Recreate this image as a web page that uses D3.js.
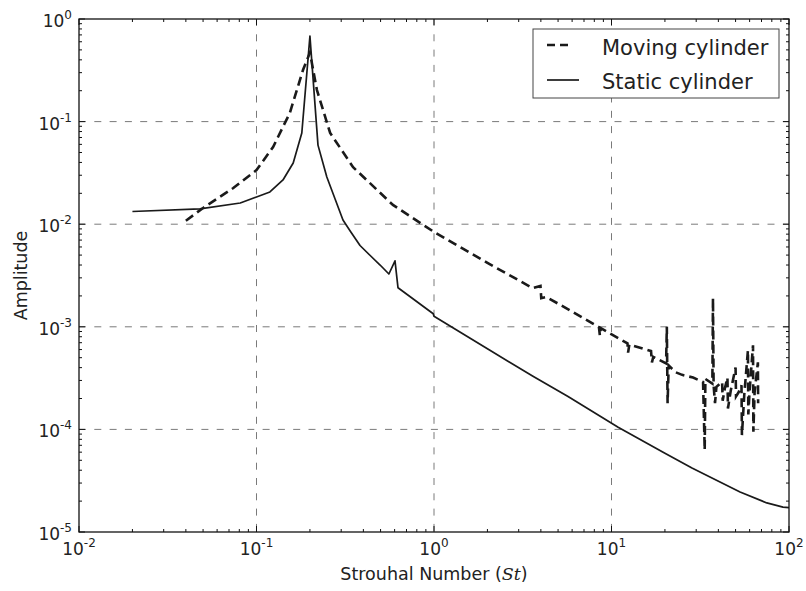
<!DOCTYPE html>
<html>
<head>
<meta charset="utf-8">
<script src="https://cdn.jsdelivr.net/npm/d3@7/dist/d3.min.js"></script>
<style>
  body { margin: 0; background: #fff; }
  svg { display: block; font-family: 'DejaVu Sans', sans-serif; }
</style>
</head>
<body>
<svg id="chart" width="806" height="591"></svg>
<script>
// Strouhal number / amplitude samples
const movingSt = [0.04, 0.05, 0.074, 0.1, 0.124, 0.154, 0.183, 0.2, 0.219, 0.26, 0.35, 0.587, 1.0, 2.0, 3.6,
  3.98, 4.02, 4.3, 5.33, 8.5, 8.6, 8.7, 12.3, 12.4, 12.6, 16.7, 16.9, 17.2, 20.3, 20.5, 20.7, 21, 23, 25, 28.8,
  32.8, 33.5, 33.8, 37, 37.3, 37.6, 38.3, 39, 42, 42.3, 43.5, 45, 45.3, 47, 50, 50.3, 52, 54, 54.3, 56,
  58.7, 59, 60, 62.7, 63, 64, 66.8, 67];
const movingAmp = [0.0108, 0.0144, 0.0225, 0.0337, 0.0565, 0.121, 0.32, 0.47, 0.203, 0.0775, 0.036, 0.0154, 0.0084, 0.0042, 0.00238,
  0.0025, 0.0019, 0.00195, 0.00158, 0.00099, 0.00082, 0.00097, 0.00069, 0.00056, 0.00067, 0.00058, 0.00045, 0.00051, 0.00044, 0.001, 0.00018, 0.00042, 0.00036, 0.00034, 0.00032,
  0.00029, 0.000063, 0.00031, 0.00028, 0.0019, 0.00027, 0.00018, 0.00026, 0.00029, 0.00019, 0.00025, 0.00032, 0.00016, 0.00024, 0.0004, 0.00021, 0.00023, 0.00027, 0.000088, 0.00022,
  0.00059, 0.00014, 0.00024, 0.00066, 0.000095, 0.00023, 0.00045, 0.00018];

const staticSt = [0.02, 0.048, 0.081, 0.1, 0.119, 0.141, 0.161, 0.18, 0.2, 0.222, 0.249, 0.307, 0.34, 0.383, 0.44, 0.497,
  0.557, 0.603, 0.627, 0.99, 1.0, 2.0, 3.61, 5.69, 10.9, 20, 28.4, 34.5, 53, 75, 92.5, 100];
const staticAmp = [0.0133, 0.0141, 0.0161, 0.0184, 0.0206, 0.027, 0.0395, 0.0775, 0.68, 0.059, 0.0288, 0.011, 0.0084, 0.0062, 0.0049, 0.004,
  0.00327, 0.0044, 0.0024, 0.00134, 0.00127, 0.00061, 0.00033, 0.000209, 0.000105, 0.0000586, 0.000042, 0.0000356, 0.0000245, 0.0000192, 0.0000175, 0.0000173];

const xDecades = [-2, -1, 0, 1, 2];
const yDecades = [0, -1, -2, -3, -4, -5];
const legendLabels = ['Moving cylinder', 'Static cylinder'];

const svg = d3.select('#chart');
const pl = 79, pr = 789, pt = 19, pb = 532;

const x = d3.scaleLog().domain([1e-2, 1e2]).range([pl, pr]);
const y = d3.scaleLog().domain([1e-5, 1]).range([pb, pt]);

// minor tick positions 2..9 per decade
const minors = (lo, hi) => {
  const out = [];
  for (let e = lo; e < hi; e++) for (let k = 2; k <= 9; k++) out.push(k * Math.pow(10, e));
  return out;
};

// grid
const grid = svg.append('g').attr('stroke', '#7a7a7a').attr('stroke-width', 1).attr('stroke-dasharray', '7,8.3');
xDecades.slice(1, -1).forEach((e) => {
  grid.append('line').attr('x1', x(10 ** e)).attr('x2', x(10 ** e)).attr('y1', pt).attr('y2', pb);
});
yDecades.slice(1, -1).forEach((e) => {
  grid.append('line').attr('y1', y(10 ** e)).attr('y2', y(10 ** e)).attr('x1', pl).attr('x2', pr);
});

// data lines
const line = d3.line().x((d) => x(d[0])).y((d) => y(d[1]));
svg.append('path')
  .datum(d3.zip(staticSt, staticAmp))
  .attr('d', line)
  .attr('fill', 'none')
  .attr('stroke', '#1a1a1a')
  .attr('stroke-width', 1.7)
  .attr('stroke-linejoin', 'round');
svg.append('path')
  .datum(d3.zip(movingSt, movingAmp))
  .attr('d', line)
  .attr('fill', 'none')
  .attr('stroke', '#1a1a1a')
  .attr('stroke-width', 2.6)
  .attr('stroke-dasharray', '9,5');

// ticks (inward, on all four sides)
const ticks = svg.append('g').attr('stroke', '#111').attr('stroke-width', 1);
const xMaj = xDecades.map((e) => 10 ** e);
const yMaj = yDecades.map((e) => 10 ** e);
xMaj.forEach((v) => {
  ticks.append('line').attr('x1', x(v)).attr('x2', x(v)).attr('y1', pb).attr('y2', pb - 6);
  ticks.append('line').attr('x1', x(v)).attr('x2', x(v)).attr('y1', pt).attr('y2', pt + 6);
});
minors(-2, 2).forEach((v) => {
  ticks.append('line').attr('x1', x(v)).attr('x2', x(v)).attr('y1', pb).attr('y2', pb - 3);
  ticks.append('line').attr('x1', x(v)).attr('x2', x(v)).attr('y1', pt).attr('y2', pt + 3);
});
yMaj.forEach((v) => {
  ticks.append('line').attr('y1', y(v)).attr('y2', y(v)).attr('x1', pl).attr('x2', pl + 6);
  ticks.append('line').attr('y1', y(v)).attr('y2', y(v)).attr('x1', pr).attr('x2', pr - 6);
});
minors(-5, 0).forEach((v) => {
  ticks.append('line').attr('y1', y(v)).attr('y2', y(v)).attr('x1', pl).attr('x2', pl + 3);
  ticks.append('line').attr('y1', y(v)).attr('y2', y(v)).attr('x1', pr).attr('x2', pr - 3);
});

// frame
svg.append('rect')
  .attr('x', pl).attr('y', pt)
  .attr('width', pr - pl).attr('height', pb - pt)
  .attr('fill', 'none').attr('stroke', '#111').attr('stroke-width', 1.3);

// tick labels
const powLabel = (sel, e) => {
  sel.append('tspan').text('10');
  sel.append('tspan').attr('dy', -8).attr('font-size', 12).text(e);
};
xDecades.forEach((e) => {
  svg.append('text')
    .attr('x', x(10 ** e)).attr('y', 555)
    .attr('text-anchor', 'middle').attr('font-size', 17).attr('fill', '#222')
    .call(powLabel, e);
});
yDecades.forEach((e) => {
  svg.append('text')
    .attr('x', 72).attr('y', y(10 ** e) + 8)
    .attr('text-anchor', 'end').attr('font-size', 17).attr('fill', '#222')
    .call(powLabel, e);
});

// axis labels
const xl = svg.append('text')
  .attr('x', (pl + pr) / 2).attr('y', 580)
  .attr('text-anchor', 'middle').attr('font-size', 17.5).attr('fill', '#222');
xl.append('tspan').text('Strouhal Number (');
xl.append('tspan').attr('font-family', "'DejaVu Serif', serif").attr('font-style', 'italic').text('St');
xl.append('tspan').text(')');

svg.append('text')
  .attr('transform', `translate(27, ${(pt + pb) / 2}) rotate(-90)`)
  .attr('text-anchor', 'middle').attr('font-size', 17.5).attr('fill', '#222')
  .text('Amplitude');

// legend
const lg = svg.append('g');
lg.append('rect')
  .attr('x', 533).attr('y', 29).attr('width', 246).attr('height', 69)
  .attr('fill', '#fff').attr('stroke', '#444').attr('stroke-width', 1);
lg.append('line')
  .attr('x1', 547).attr('x2', 572).attr('y1', 45).attr('y2', 45)
  .attr('stroke', '#1a1a1a').attr('stroke-width', 2.6).attr('stroke-dasharray', '8,5');
lg.append('line')
  .attr('x1', 547).attr('x2', 579).attr('y1', 80).attr('y2', 80)
  .attr('stroke', '#1a1a1a').attr('stroke-width', 1.7);
legendLabels.forEach((t, i) => {
  lg.append('text')
    .attr('x', 602).attr('y', 55 + i * 34)
    .attr('font-size', 21).attr('fill', '#222')
    .text(t);
});
</script>
</body>
</html>
